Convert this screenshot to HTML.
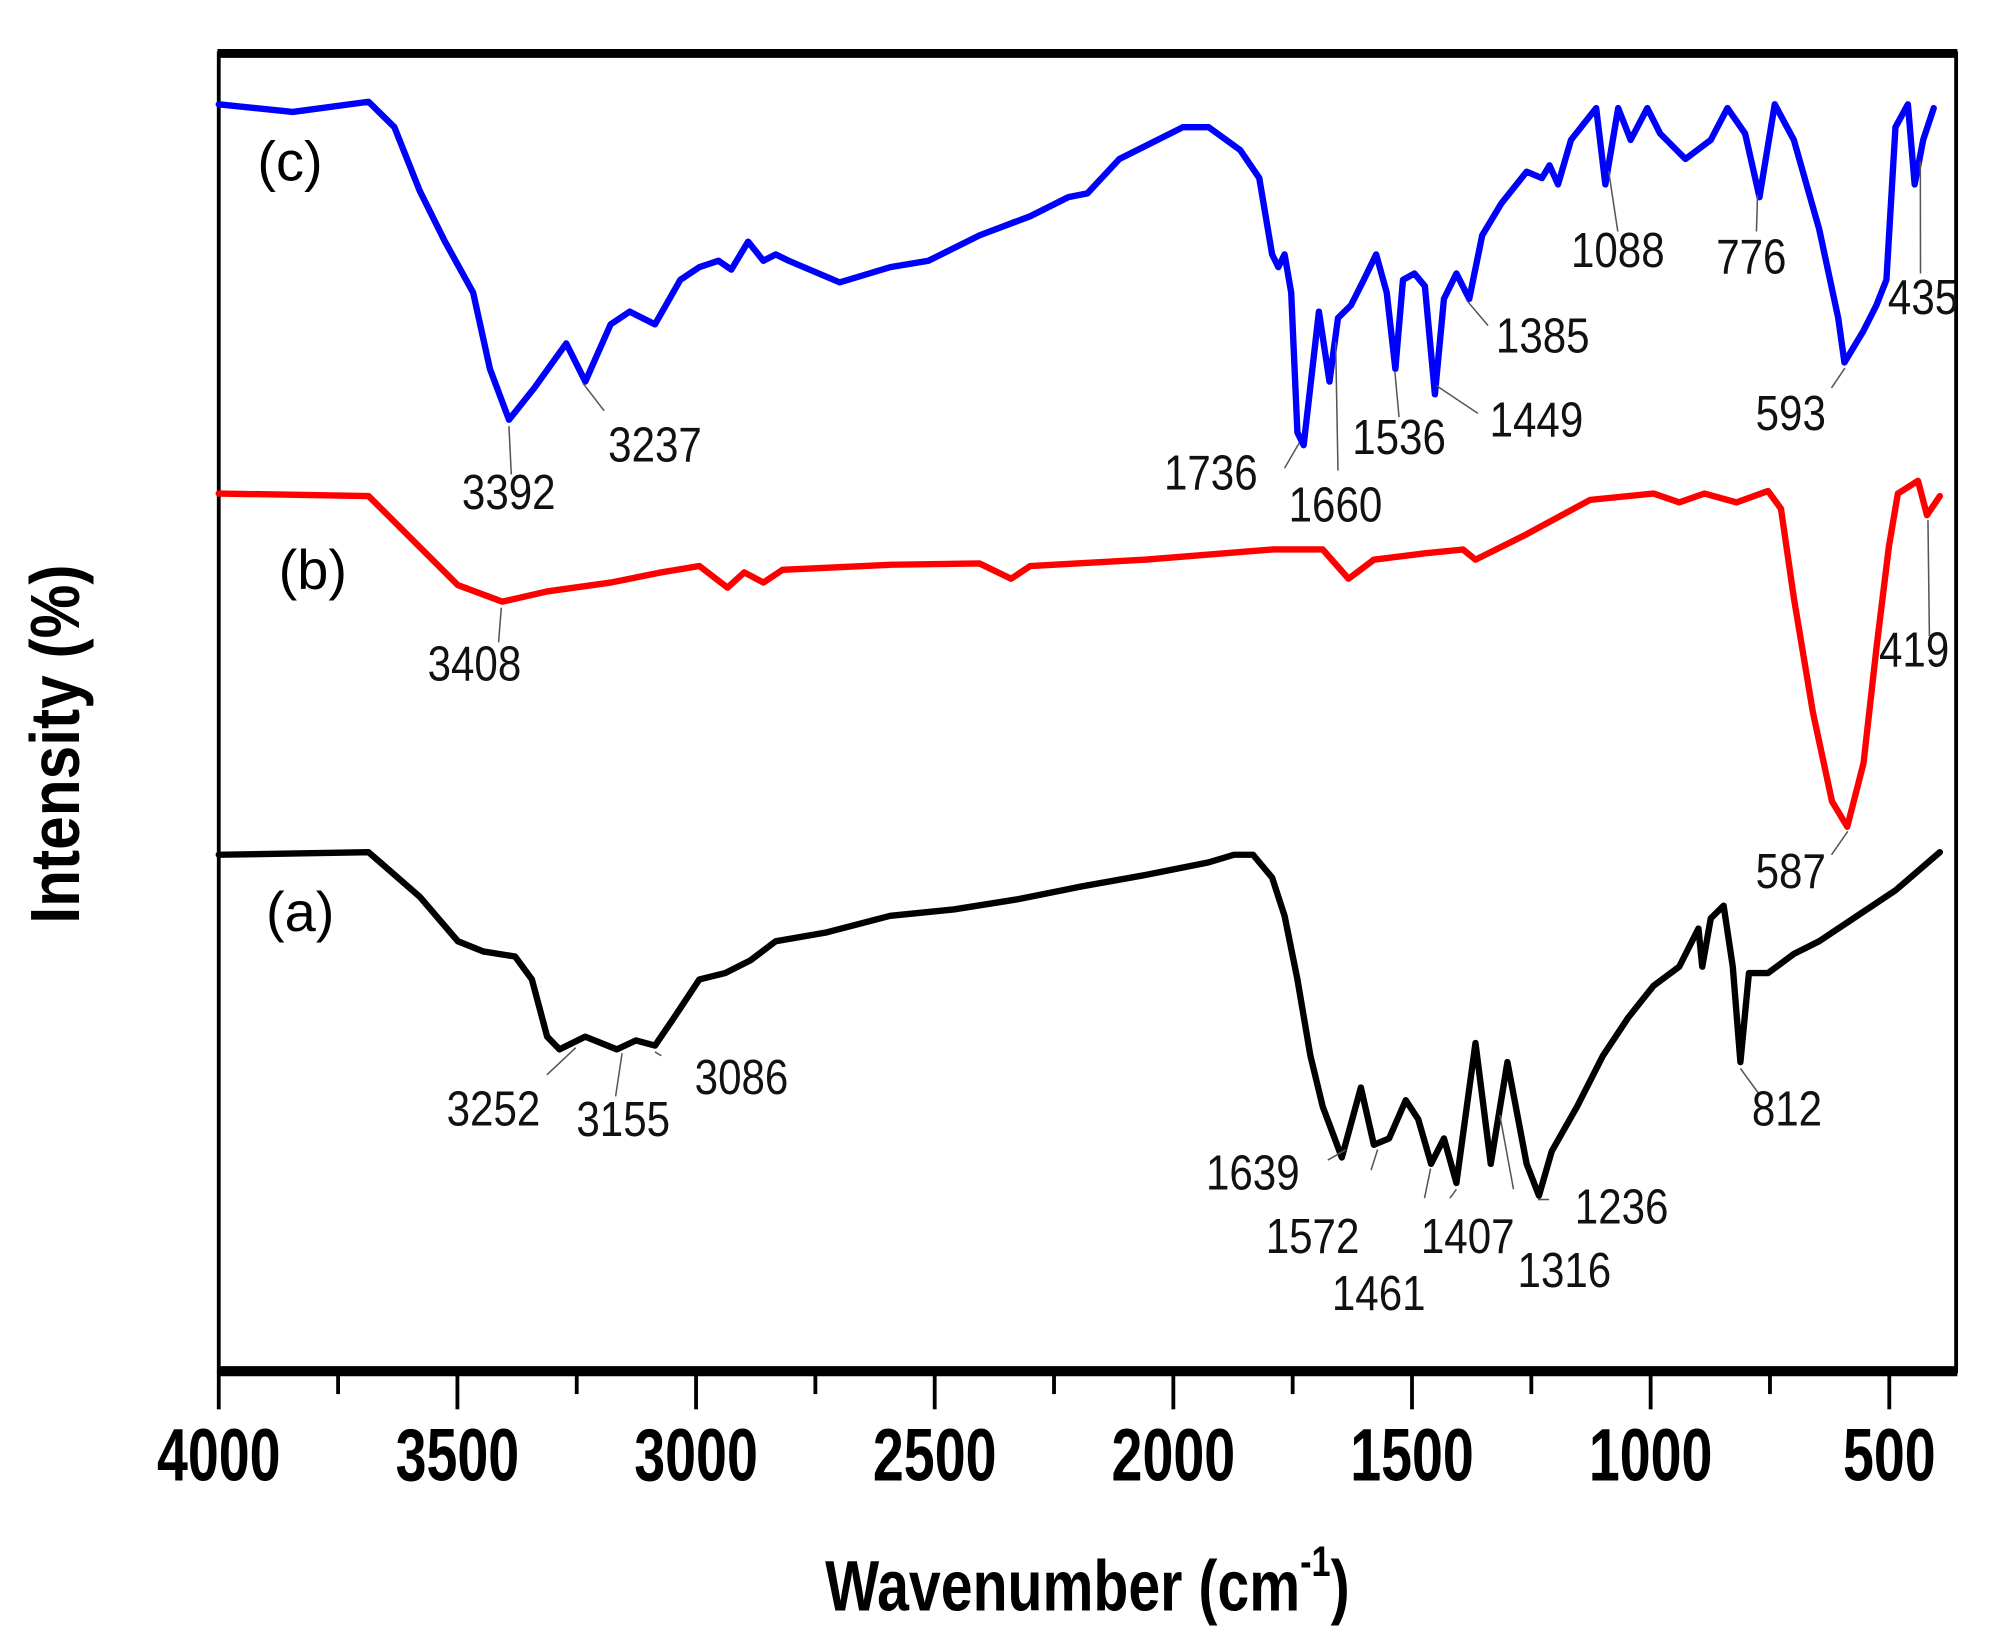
<!DOCTYPE html>
<html><head><meta charset="utf-8"><style>
html,body{margin:0;padding:0;background:#fff;}
svg{display:block;}
text{font-family:"Liberation Sans",Arial,sans-serif;}
</style></head><body>
<svg id="chart" width="1993" height="1651" viewBox="0 0 1567 1298" preserveAspectRatio="none" xmlns="http://www.w3.org/2000/svg">
<rect x="0" y="0" width="1567" height="1298" fill="#fff"/>
<g id="plot"></g>
</svg>
<script>
// ---- data ----
const wnA = [4000,3686,3579,3499,3446,3379,3344,3312,3286,3232,3166,3126,3086,3046,2993,2939,2886,2833,2726,2593,2460,2326,2193,2060,1926,1873,1833,1793,1767,1740,1713,1687,1647,1607,1580,1548,1513,1487,1460,1433,1407,1367,1335,1300,1260,1234,1207,1154,1100,1047,994,940,900,892,874,847,828,812,794,754,700,647,567,487,394];
const yA   = [406,408,373,338,330,326,308,263,253,263,253,260,256,278,308,313,323,338,345,358,363,371,381,390,400,406,406,388,358,308,248,208,168,223,178,183,213,198,163,183,148,258,163,243,163,138,173,208,248,278,303,318,348,318,356,366,318,243,313,313,328,338,358,378,408];
const wnB = [4000,3686,3606,3499,3406,3312,3179,3073,2993,2934,2899,2859,2819,2593,2406,2340,2300,2060,1793,1687,1633,1580,1473,1393,1367,1260,1127,994,940,887,820,754,727,700,660,620,588,554,527,501,482,461,440,421,394];
const yB   = [690,688,658,618,605,613,620,628,633,616,628,620,630,634,635,623,633,638,646,646,623,638,643,646,638,658,685,690,683,690,683,692,678,608,518,448,428,478,568,648,690,695,700,673,688];
const wnC = [4000,3845,3686,3632,3579,3526,3467,3432,3392,3339,3272,3232,3179,3139,3086,3033,2993,2953,2926,2891,2859,2833,2806,2699,2593,2513,2406,2300,2220,2180,2113,1980,1926,1860,1820,1793,1780,1767,1753,1740,1727,1695,1673,1655,1628,1601,1575,1553,1535,1519,1495,1473,1452,1433,1407,1380,1353,1313,1260,1228,1212,1194,1167,1114,1095,1068,1042,1007,980,927,874,839,802,772,740,700,647,607,594,554,527,506,487,461,447,429,407];
const yC   = [996,990,998,978,928,888,848,788,748,773,808,778,823,833,823,858,868,873,866,888,873,878,873,856,868,873,893,908,923,926,953,978,978,960,938,878,868,878,848,738,728,833,778,828,838,858,878,848,788,858,863,853,768,843,863,843,893,918,943,938,948,933,968,993,933,993,968,993,973,953,968,993,973,923,996,968,898,828,793,818,838,858,978,996,933,968,993];
const xTickVals = [4000,3500,3000,2500,2000,1500,1000,500];
const xMinorVals = [3750,3250,2750,2250,1750,1250,750];
const peaksC = [3392,3237,1736,1660,1536,1449,1385,1088,776,593,435];
const peaksB = [3408,587,419];
const peaksA = [3252,3155,3086,1639,1572,1461,1407,1316,1236,812];

// ---- scales ----
const X0=172, X1=1538, Y0=42, Y1=1078;
const W0=4000, W1=360;
function xs(w){return X0+(W0-w)*(X1-X0)/(W0-W1);}
function ys(v){return Y1-v;}
function interp(wn,ys_,w){for(let i=0;i<wn.length-1;i++){if(w<=wn[i]&&w>=wn[i+1]){const t=(wn[i]-w)/(wn[i]-wn[i+1]);return ys_[i]+t*(ys_[i+1]-ys_[i]);}}return ys_[ys_.length-1];}

const NS="http://www.w3.org/2000/svg";
const g=document.getElementById('plot');
function mk(tag,attrs){const e=document.createElementNS(NS,tag);for(const k in attrs)e.setAttribute(k,attrs[k]);g.appendChild(e);return e;}

let fr=mk('rect',{x:X0,y:Y0,width:X1-X0,height:Y1-Y0,fill:'none',stroke:'#000','stroke-width':3});


let tb=mk('line',{x1:X0-1,y1:Y0,x2:X1+1,y2:Y0,stroke:'#000','stroke-width':7});


let xa=mk('line',{x1:X0-1,y1:Y1,x2:X1+1,y2:Y1,stroke:'#000','stroke-width':8});



xTickVals.forEach(v=>{
  const t=mk('line',{x1:xs(v),y1:Y1,x2:xs(v),y2:Y1+30,stroke:'#000','stroke-width':3});
  
  
  const l=mk('text',{x:0,y:0,'text-anchor':'middle','font-size':52,'font-weight':'bold',transform:'translate('+xs(v)+','+(Y1+86)+') scale(0.84,1.12)'});
  l.textContent=v;
  
  
});
xMinorVals.forEach(v=>{
  const t=mk('line',{x1:xs(v),y1:Y1,x2:xs(v),y2:Y1+18,stroke:'#000','stroke-width':3});
  
  
});

let xt=mk('text',{transform:'translate(855,1266) scale(0.9,1.12)','text-anchor':'middle','font-size':50,'font-weight':'bold'});
xt.innerHTML='Wavenumber (cm<tspan font-size="30" dy="-24">-1</tspan><tspan dy="24">)</tspan>';


let yt=mk('text',{transform:'translate(62,585) rotate(-90) scale(0.95,1.1)','text-anchor':'middle','font-size':50,'font-weight':'bold'});
yt.textContent='Intensity (%)';



function drawSeries(wn,vals,color,name){
  const d=wn.map((w,i)=>(i?'L':'M')+xs(w).toFixed(1)+','+ys(vals[i]).toFixed(1)).join(' ');
  const p=mk('path',{d:d,fill:'none',stroke:color,'stroke-width':5,'stroke-linejoin':'round','stroke-linecap':'round'});
  
  
}
drawSeries(wnA,yA,'#000','series-a-line');
drawSeries(wnB,yB,'#ff0000','series-b-line');
drawSeries(wnC,yC,'#0000ff','series-c-line');

[['(c)',228,142,'series-c-label'],['(b)',246,463,'series-b-label'],['(a)',236,732,'series-a-label']].forEach(s=>{
  const t=mk('text',{x:s[1],y:s[2],'text-anchor':'middle','font-size':44});
  t.textContent=s[0];
  
  
});

const layC=[[400,400,402,373],[515,363,475,323],[952,385,1010,368],[1050,410,1052,370],[1100,357,1100,328],[1208,343,1162,325],[1213,277,1170,256],[1272,210,1272,182],[1377,215,1381,182],[1408,338,1440,305],[1512,247,1510,215]];
const layB=[[373,535,392,505],[1408,698,1440,672],[1505,524,1517,500]];
const layA=[[388,885,430,845],[490,893,484,862],[583,860,520,830],[985,935,1044,912],[1032,985,1078,920],[1084,1030,1120,942],[1154,985,1140,942],[1230,1012,1190,935],[1275,962,1218,943],[1405,885,1383,860]];
function annotate(peaks,lay,wn,vals,ser){
  peaks.forEach((p,i)=>{
    const px=xs(p), py=ys(interp(wn,vals,p))+5, L=lay[i];
    const ln=mk('line',{x1:px,y1:py,x2:L[2],y2:L[3],stroke:'#555','stroke-width':1.2});
    
    
    const t=mk('text',{transform:'translate('+L[0]+','+L[1]+') scale(0.92,1.08)','text-anchor':'middle','font-size':36,fill:'#111'});
    t.textContent=p;
    
    
  });
}
annotate(peaksC,layC,wnC,yC,'c');
annotate(peaksB,layB,wnB,yB,'b');
annotate(peaksA,layA,wnA,yA,'a');
</script>
</body></html>
